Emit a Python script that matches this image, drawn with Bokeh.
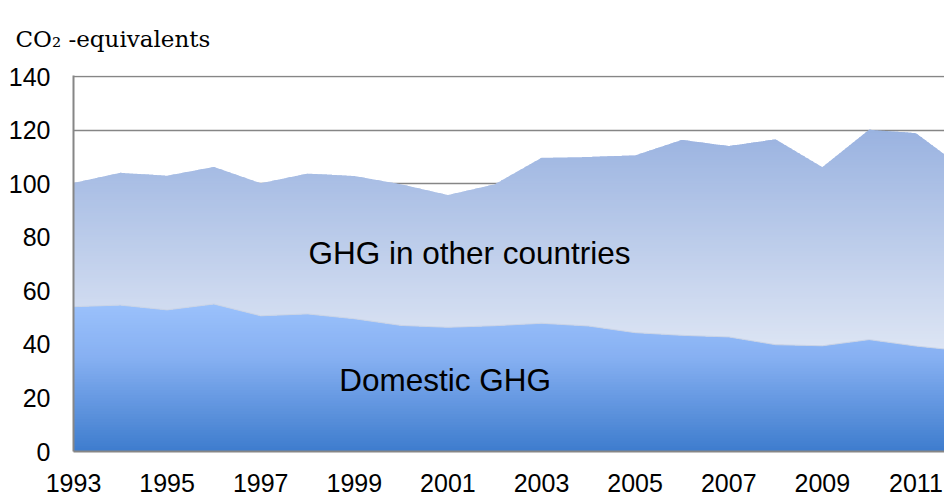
import numpy as np
from bokeh.plotting import figure
from bokeh.models import FixedTicker, Label, Range1d
from bokeh.embed import file_html
from bokeh.resources import INLINE

# ---- data ----
years = [1993, 1994, 1995, 1996, 1997, 1998, 1999, 2000, 2001, 2002,
         2003, 2004, 2005, 2006, 2007, 2008, 2009, 2010, 2011, 2012]
domestic = [54.1, 54.7, 52.9, 55.1, 50.7, 51.4, 49.6, 47.1, 46.4, 47.0,
            47.9, 46.9, 44.4, 43.4, 42.8, 39.9, 39.5, 41.8, 39.4, 37.6]
other_countries = [46.2, 49.4, 50.1, 51.2, 49.5, 52.4, 53.3, 52.7, 49.4, 52.8,
                   61.8, 63.1, 66.2, 73.0, 71.3, 76.7, 66.7, 78.4, 79.5, 68.3]
y_ticks = [0, 20, 40, 60, 80, 100, 120, 140]
x_ticks = [1993, 1995, 1997, 1999, 2001, 2003, 2005, 2007, 2009, 2011]
title_text = "CO\u2082 -equivalents"
label_other = "GHG in other countries"
label_domestic = "Domestic GHG"

dom = np.array(domestic)
tot = dom + np.array(other_countries)

p = figure(width=944, height=494, output_backend="svg", toolbar_location=None,
           x_range=Range1d(1993, 2011.61), y_range=Range1d(0, 140.45),
           min_border_left=73, min_border_right=0, min_border_top=75,
           min_border_bottom=43)
p.outline_line_color = None
p.background_fill_color = "white"
p.border_fill_color = "white"

# dense sampling of the piecewise-linear series for gradient strips
xs = np.linspace(years[0], years[-1], 1901)
dom_d = np.interp(xs, years, dom)
tot_d = np.interp(xs, years, tot)


def hex2rgb(h):
    h = h.lstrip("#")
    return np.array([int(h[i:i + 2], 16) for i in (0, 2, 4)], dtype=float)


def grad(stops, y):
    ys = [s[0] for s in stops]
    cols = np.array([hex2rgb(s[1]) for s in stops])
    c = [np.interp(y, ys, cols[:, k]) for k in range(3)]
    return "#%02x%02x%02x" % tuple(int(round(v)) for v in c)


top_stops = [(38, "#dde5f4"), (121, "#99b2e0")]
dom_stops = [(0, "#3e7ccd"), (35, "#86b0f2"), (56, "#9cc2fc")]

step = 1.0
ov = 0.45
# domestic area strips
for a in np.arange(0, np.ceil(dom.max()) + 1, step):
    b = a + step + ov
    y1 = np.full_like(xs, a)
    y2 = np.clip(dom_d, a, b)
    if np.all(y2 <= y1):
        continue
    p.varea(x=xs, y1=y1, y2=y2, fill_color=grad(dom_stops, a + step / 2))

# other-countries area strips
for a in np.arange(np.floor(dom.min()) - 1, np.ceil(tot.max()) + 1, step):
    b = a + step + ov
    y1 = np.clip(dom_d, a, b)
    y2 = np.clip(tot_d, a, b)
    if np.all(y2 <= y1):
        continue
    p.varea(x=xs, y1=y1, y2=y2, fill_color=grad(top_stops, a + step / 2))

p.line(years, dom, line_color="#c9d3e6", line_width=1)

# grid / axes
p.xgrid.grid_line_color = None
p.ygrid.ticker = FixedTicker(ticks=y_ticks)
p.ygrid.grid_line_color = "#868686"
p.ygrid.grid_line_width = 1.3

p.yaxis.ticker = FixedTicker(ticks=y_ticks)
p.xaxis.ticker = FixedTicker(ticks=x_ticks)
for ax in (p.xaxis[0], p.yaxis[0]):
    ax.axis_line_color = "#868686"
    ax.axis_line_width = 2
    ax.major_tick_line_color = None
    ax.minor_tick_line_color = None
    ax.major_tick_out = 0
    ax.major_tick_in = 0
    ax.minor_tick_out = 0
    ax.minor_tick_in = 0
    ax.major_label_text_font = "Liberation Sans"
    ax.major_label_text_font_size = "25px"
    ax.major_label_text_color = "black"
p.yaxis.major_label_standoff = 23
p.xaxis.major_label_standoff = 22

p.add_layout(Label(x=1998.02, y=74.2, text=label_other, text_baseline="middle",
                   text_font="Liberation Sans", text_font_size="31.5px",
                   text_color="black"))
p.add_layout(Label(x=1998.68, y=26.7, text=label_domestic, text_baseline="middle",
                   text_font="Liberation Sans", text_font_size="31.5px",
                   text_color="black"))

p.title.text = title_text
p.title.text_font = "DejaVu Serif"
p.title.text_font_size = "23px"
p.title.text_font_style = "normal"
p.title.text_color = "black"
p.title.align = "left"
p.title.vertical_align = "top"
p.title.offset = -58
p.title.standoff = 44

open("out.html", "w").write(file_html(p, INLINE))
